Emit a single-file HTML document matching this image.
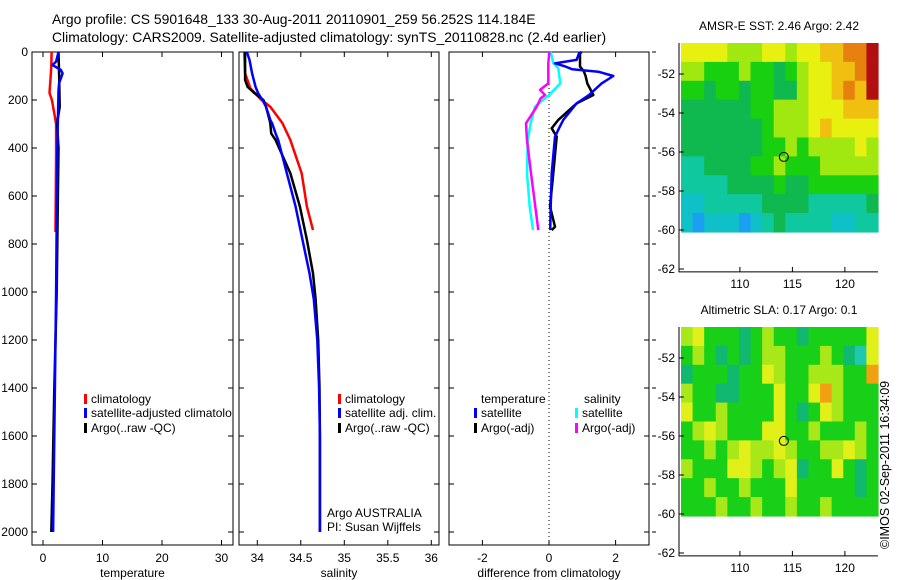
<!DOCTYPE html>
<html><head><meta charset="utf-8"><style>
body{margin:0;background:#fff;}
svg{display:block;font-family:"Liberation Sans",sans-serif;}
</style></head><body>
<svg id="fig" width="900" height="580" viewBox="0 0 900 580" xmlns="http://www.w3.org/2000/svg">
<text x="52" y="24" font-size="13.9">Argo profile: CS 5901648_133 30-Aug-2011 20110901_259 56.252S 114.184E</text>
<text x="52" y="42" font-size="13.9">Climatology: CARS2009. Satellite-adjusted climatology: synTS_20110828.nc (2.4d earlier)</text>
<g id="g"></g>
<text transform="translate(889,549) rotate(-90)" font-size="12.5">©IMOS 02-Sep-2011 16:34:09</text>
</svg>
<script>
// ---- data ----
const depthTempClim=[0,60,100,170,200,270,300,420,750];
const tempClim=[1.45,1.4,1.3,1.1,1.5,2.0,2.2,2.2,2.1];
const depthTempSat=[0,40,54,75,89,130,160,400,1000,1400,2000];
const tempSat=[2.6,2.2,1.6,3.0,3.3,2.7,2.6,2.4,2.2,2.0,1.7];
const depthTempArgo=[0,89,230,297,400,1000,1400,1800,2000];
const tempArgo=[2.6,2.7,2.8,2.35,2.6,2.3,1.9,1.6,1.4];
const depthSal=[0,33,89,117,146,172,200,228,283,297,339,367,506,644,783,922,1030,1200,1400,1600,1800,2000];
const salArgo=[33.86,33.86,33.86,33.86,33.89,33.97,34.07,34.1,34.14,34.15,34.16,34.21,34.38,34.49,34.57,34.64,34.67,34.70,34.715,34.72,34.72,34.72];
const salSat=[33.88,33.91,33.94,33.96,33.98,34.01,34.06,34.10,34.15,34.17,34.21,34.24,34.34,34.44,34.52,34.60,34.65,34.69,34.71,34.72,34.72,34.72];
const depthSalClim=[0,89,151,200,228,297,367,506,644,742];
const salClim=[33.85,33.86,33.92,34.05,34.15,34.29,34.38,34.51,34.57,34.64];
const depthDiffT=[0,6,33,47,61,72,82,100,131,179,214,283,318,353,506,644,728,742];
const diffTArgo=[0.98,0.93,0.93,0.93,0.93,1.0,1.05,1.1,1.15,1.33,0.83,0.28,0.08,0.23,0.13,0.03,0.18,0.08];
const diffTSat=[0.98,0.9,0.83,0.18,0.5,0.7,1.48,1.93,1.58,1.2,0.83,0.43,0.3,0.18,0.08,0.05,0.04,0.04];
const depthDiffS=[0,47,68,131,158,179,193,228,297,367,506,644,742];
const diffSSat=[0.05,0.13,0.28,0.34,0.15,0.0,-0.12,-0.42,-0.55,-0.64,-0.66,-0.58,-0.48];
const diffSArgo=[0.01,-0.02,-0.02,-0.02,-0.27,-0.12,-0.25,-0.37,-0.69,-0.66,-0.54,-0.41,-0.32];
const sstGrid=[
[6,6,6,6,5,5,5,6,6,5,6,6,7,7,8,8,9],
[5,5,4,4,4,5,4,4,3,4,5,6,6,7,7,8,9],
[4,4,3,4,4,3,4,4,3,3,5,6,6,7,8,7,9],
[3,3,3,3,3,3,4,4,5,5,5,6,6,6,7,7,7],
[3,3,3,3,3,3,3,4,5,5,5,6,7,6,6,6,6],
[3,3,3,3,3,3,3,4,4,5,4,5,5,5,5,6,5],
[2,2,3,3,3,3,4,4,5,4,4,4,5,5,5,5,5],
[2,2,2,2,3,3,3,3,4,3,3,4,4,4,4,4,4],
[1,1,2,2,2,2,2,3,3,3,3,2,2,2,2,2,3],
[1,0,1,1,1,0,1,2,3,2,2,2,2,1,1,2,2]];
const slaGrid=[
[3,4,2,2,2,1,2,3,2,2,1,2,2,2,2,2,4],
[2,3,2,1,2,1,2,3,3,2,2,2,3,2,1,0,4],
[1,2,2,2,1,2,2,4,3,2,2,3,3,3,2,2,5],
[3,2,2,1,1,2,2,2,4,2,2,4,5,3,2,2,2],
[4,2,2,3,2,2,2,2,4,2,1,2,4,3,2,2,2],
[2,3,4,3,2,2,2,4,4,2,2,3,2,2,2,3,2],
[2,2,3,2,3,4,3,3,4,3,2,2,3,3,4,3,2],
[3,2,2,2,4,4,3,2,3,4,1,2,2,4,2,1,2],
[2,2,3,2,2,3,2,2,2,4,2,2,2,2,2,1,2],
[2,2,2,3,2,2,3,2,2,3,2,2,3,2,2,2,2]];
const depthTicks=[0,200,400,600,800,1000,1200,1400,1600,1800,2000];
const tempTicks=[0,10,20,30];
const salTicks=[34,34.5,35,35.5,36];
const diffTicks=[-2,0,2];
const latTicks=[-52,-54,-56,-58,-60,-62];
const lonTicks=[110,115,120];
const sstColors=["#1aa0f0","#10c0c8","#10c8a0","#10b850","#18d010","#a0e810","#e8f010","#f0c010","#e88010","#b01010"];
const slaColors=["#20c8b0","#10b870","#18d018","#a8e818","#e0f018","#f0a010"];
// ---- helpers ----
const NS="http://www.w3.org/2000/svg";
const G=document.getElementById('g');
function mk(tag,attrs,parent){const e=document.createElementNS(NS,tag);for(const k in attrs)e.setAttribute(k,attrs[k]);(parent||G).appendChild(e);return e;}
const yD=d=>52+d*0.24;
function panel(name,x0,x1,xf,ticks,fmt,title,rightTicks){
  const r=mk('rect',{x:x0,y:52,width:x1-x0,height:493,fill:'none',stroke:'#000','stroke-width':1});
  
  
  ticks.forEach(t=>{const x=xf(t);
    mk('line',{x1:x,x2:x,y1:545,y2:540,stroke:'#000'});mk('line',{x1:x,x2:x,y1:52,y2:57,stroke:'#000'});
    const tx=mk('text',{x:x,y:562,'font-size':12,'text-anchor':'middle'});tx.textContent=fmt(t);
    
    });
  depthTicks.forEach(d=>{const y=yD(d);
    mk('line',{x1:x0,x2:x0+5,y1:y,y2:y,stroke:'#000'});mk('line',{x1:x1,x2:x1-5,y1:y,y2:y,stroke:'#000'});
    if(rightTicks)mk('line',{x1:x1+3,x2:x1+7,y1:y,y2:y,stroke:'#000'});});
  const tt=mk('text',{x:(x0+x1)/2,y:577,'font-size':12,'text-anchor':'middle'});tt.textContent=title;
  
  
}
function line(name,xs,ds,xf,color,w){
  const p=mk('polyline',{points:xs.map((v,i)=>xf(v).toFixed(1)+','+yD(ds[i]).toFixed(1)).join(' '),fill:'none',stroke:color,'stroke-width':w||2.5,'stroke-linejoin':'round'});
  
  
}
function legend(name,x,y,color,label){
  mk('rect',{x:x,y:y-9,width:3,height:10,fill:color});
  const t=mk('text',{x:x+7,y:y,'font-size':12});t.textContent=label;
  
  
}
depthTicks.forEach(d=>{const t=mk('text',{x:28,y:yD(d)+4,'font-size':12,'text-anchor':'end'});t.textContent=d;
  
  });
const xT=t=>43+t*5.95;
panel('temperature-panel',32,233,xT,tempTicks,t=>t,'temperature');
line('temp-climatology',tempClim,depthTempClim,xT,'#f00');
line('temp-argo',tempArgo,depthTempArgo,xT,'#000');
line('temp-satellite',tempSat,depthTempSat,xT,'#00f');
legend('legend-climatology',84,403,'#f00','climatology');
legend('legend-satellite-adjusted',84,417,'#00f','satellite-adjusted climatolo');
legend('legend-argo',84,432,'#000','Argo(..raw -QC)');
const xS=s=>257.3+(s-34)*87;
panel('salinity-panel',239,439,xS,salTicks,s=>s,'salinity');
line('sal-climatology',salClim,depthSalClim,xS,'#f00');
line('sal-argo',salArgo,depthSal,xS,'#000');
line('sal-satellite',salSat,depthSal,xS,'#00f');
legend('sal-legend-climatology',338,403,'#f00','climatology');
legend('sal-legend-satellite',338,417,'#00f','satellite adj. clim.');
legend('sal-legend-argo',338,432,'#000','Argo(..raw -QC)');
[['Argo AUSTRALIA',517],['PI: Susan Wijffels',531]].forEach(a=>{const t=mk('text',{x:327,y:a[1],'font-size':12});t.textContent=a[0];
  
  });
const xF=v=>549+v*33.3;
panel('difference-panel',449,649,xF,diffTicks,v=>v,'difference from climatology',true);
mk('line',{x1:xF(0),x2:xF(0),y1:52,y2:545,stroke:'#000','stroke-dasharray':'1,3'});
line('diff-sal-sat',diffSSat,depthDiffS,xF,'#0ff');
line('diff-sal-argo',diffSArgo,depthDiffS,xF,'#f0f');
line('diff-temp-argo',diffTArgo,depthDiffT,xF,'#000');
line('diff-temp-sat',diffTSat,depthDiffT,xF,'#00f');
[['temperature',481],['salinity',584]].forEach(a=>{const t=mk('text',{x:a[1],y:403,'font-size':12});t.textContent=a[0];
  
  });
legend('diff-legend-temp-sat',474,417,'#00f','satellite');
legend('diff-legend-temp-argo',474,432,'#000','Argo(-adj)');
legend('diff-legend-sal-sat',575,417,'#0ff','satellite');
legend('diff-legend-sal-argo',575,432,'#f0f','Argo(-adj)');
const xL=l=>679+(l-104.2)*10.5;
function map(name,top,grid,colors,title){
  const yL=la=>top+(-50.41-la)*19.5;
  const x0=681,x1=878,y0=top,y1=yL(-60.1);
  const cw=(x1-x0)/grid[0].length,ch=(y1-y0)/grid.length;
  grid.forEach((row,i)=>row.forEach((v,j)=>{
    const c=mk('rect',{x:(x0+j*cw).toFixed(2),y:(y0+i*ch).toFixed(2),width:(cw+0.6).toFixed(2),height:(ch+0.6).toFixed(2),fill:colors[v]});
    
    }));
  const by=yL(-62.15);
  mk('polyline',{points:`679,${top} 679,${by} 878,${by}`,fill:'none',stroke:'#000'});
  latTicks.forEach(la=>{const y=yL(la);mk('line',{x1:679,x2:684,y1:y,y2:y,stroke:'#000'});
    const t=mk('text',{x:675,y:y+4,'font-size':12,'text-anchor':'end'});t.textContent=la;
    
    });
  lonTicks.forEach(lo=>{const x=xL(lo);mk('line',{x1:x,x2:x,y1:by,y2:by-5,stroke:'#000'});
    const t=mk('text',{x:x,y:by+16,'font-size':12,'text-anchor':'middle'});t.textContent=lo;
    
    });
  const ci=mk('circle',{cx:xL(114.184),cy:yL(-56.252),r:4.5,fill:'none',stroke:'#000','stroke-width':1});
  
  
  const t=mk('text',{x:779,y:top-13,'font-size':12,'text-anchor':'middle'});t.textContent=title;
  
  
}
map('sst-map',43,sstGrid,sstColors,'AMSR-E SST: 2.46 Argo: 2.42');
map('sla-map',327,slaGrid,slaColors,'Altimetric SLA: 0.17 Argo: 0.1');
</script>
</body></html>
